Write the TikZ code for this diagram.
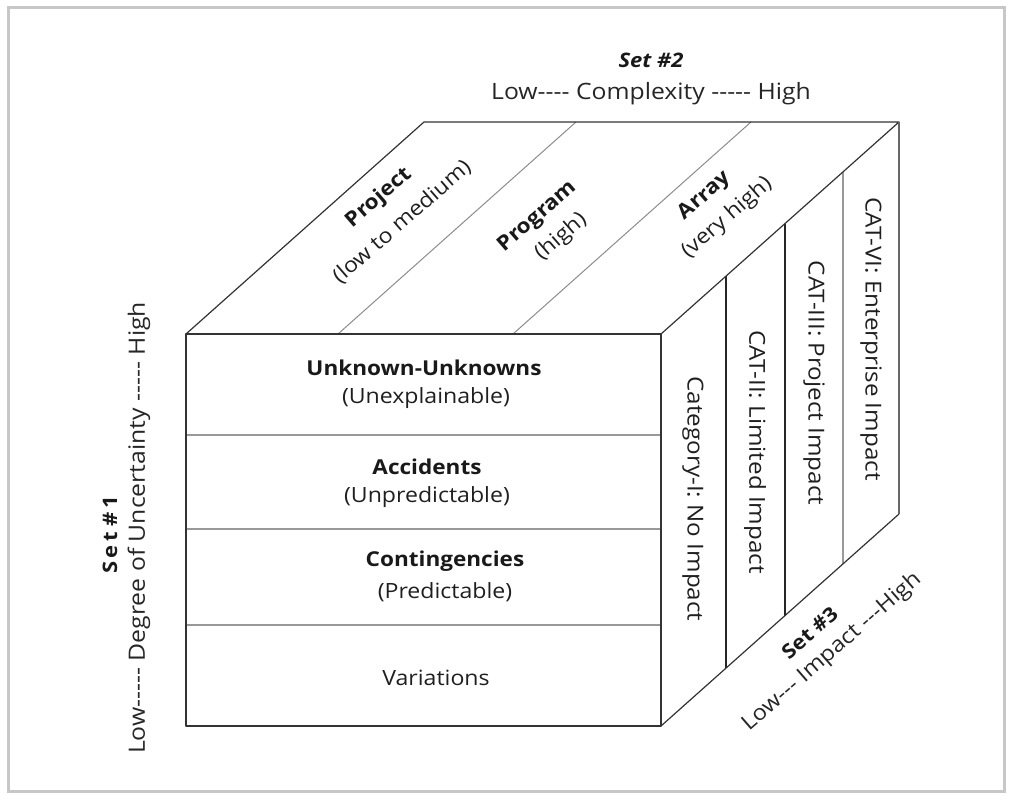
\documentclass[tikz,border=0pt]{standalone}
\usepackage{fontspec}
\setmainfont{Open Sans}[FakeStretch=1.1]
\newcommand\hy{-\kern0pt}
\begin{document}
\begin{tikzpicture}[x=1pt,y=-1pt,
  edge/.style={draw=black!80,line width=1.2pt,line join=round},
  softdiv/.style={draw=black!40,line width=1.1pt},
  harddiv/.style={draw=black!85,line width=1.2pt},
  lbl/.style={inner sep=0pt,text=black!88,font=\fontsize{21}{25}\selectfont},
  sidelbl/.style={inner sep=0pt,text=black!88,font=\fontsize{22}{26}\selectfont},
  blbl/.style={inner sep=0pt,text=black!90,font=\fontsize{20.5}{24}\selectfont\bfseries},
  axis/.style={inner sep=0pt,text=black!85,font=\fontsize{22.5}{26}\selectfont},
  setlbl/.style={inner sep=0pt,text=black!90,font=\fontsize{20}{24}\selectfont\bfseries}]
\useasboundingbox (0,0) rectangle (1010,795);
\draw[draw=black!22,line width=3pt] (8,7) rectangle (1004,791);
% cube corners
\coordinate (ftl) at (186,334);
\coordinate (ftr) at (661,334);
\coordinate (fbr) at (661,726);
\coordinate (fbl) at (186,726);
\coordinate (btl) at (424,122);
\coordinate (btr) at (899,122);
\coordinate (bbr) at (899,514);
% front face dividers
\coordinate (h1l) at (186,435); \coordinate (h1r) at (661,435);
\coordinate (h2l) at (186,529); \coordinate (h2r) at (661,529);
\coordinate (h3l) at (186,625); \coordinate (h3r) at (661,625);
\draw[softdiv] (h1l) -- (h1r);
\draw[softdiv] (h2l) -- (h2r);
\draw[softdiv] (h3l) -- (h3r);
% top face dividers
\coordinate (t1f) at (338,334); \coordinate (t1b) at (576,122);
\coordinate (t2f) at (513,334); \coordinate (t2b) at (751,122);
\draw[draw=black!45,line width=1pt] (t1f) -- (t1b);
\draw[draw=black!45,line width=1pt] (t2f) -- (t2b);
% right face dividers
\coordinate (r1t) at (726,276); \coordinate (r1b) at (726,668);
\coordinate (r2t) at (785,224); \coordinate (r2b) at (785,616);
\coordinate (r3t) at (843,172); \coordinate (r3b) at (843,564);
\draw[harddiv] (r1t) -- (r1b);
\draw[harddiv] (r2t) -- (r2b);
\draw[softdiv] (r3t) -- (r3b);
% cube edges
\draw[edge] (ftl) -- (ftr) -- (fbr) -- (fbl) -- cycle;
\draw[edge] (ftl) -- (btl) -- (btr) -- (ftr);
\draw[edge] (fbr) -- (bbr);
\draw[draw=black!60,line width=1.2pt] (btr) -- (bbr);
% front texts
\node[blbl] (uu) at (424,368) {Unknown-Unknowns};
\node[lbl] (uus) at (426,398) {(Unexplainable)};
\node[blbl] (acc) at (427,467) {Accidents};
\node[lbl] (accs) at (427,497) {(Unpredictable)};
\node[blbl] (con) at (445,561) {Contingencies};
\node[lbl] (cons) at (445,592) {(Predictable)};
\node[lbl] (var) at (436,678) {Variations};
% top texts
\node[blbl,rotate=41] (proj) at (379,198) {Project};
\node[lbl,rotate=41] (projs) at (402,222) {(low to medium)};
\node[blbl,rotate=41] (prog) at (538,217) {Program};
\node[lbl,rotate=41] (progs) at (561,237) {(high)};
\node[blbl,rotate=41] (arr) at (705,196) {Array};
\node[lbl,rotate=41] (arrs) at (727,218) {(very high)};
% right texts
\node[sidelbl,rotate=-90] (c1) at (693,499) {Category-I: No Impact};
\node[sidelbl,rotate=-90] (c2) at (755,452) {CAT-II: Limited Impact};
\node[sidelbl,rotate=-90] (c3) at (814,383) {CAT-III: Project Impact};
\node[sidelbl,rotate=-90] (c4) at (871,339) {CAT-VI: Enterprise Impact};
% axis labels
\node[setlbl,font=\fontsize{20}{24}\selectfont\bfseries\itshape] (s2) at (651,60) {Set \#2};
\node[axis] (a2) at (651,94) {Low\hy\hy\hy\hy{} Complexity \hy\hy\hy\hy\hy{} High};
\node[setlbl,rotate=90] (s1) at (110,535) {S\,e\,t \#\,1};
\node[axis,rotate=90] (a1) at (139,528) {Low\hy\hy\hy\hy\hy{} Degree of Uncertainty \hy\hy\hy\hy\hy{} High};
\node[setlbl,rotate=41] (s3) at (810,633) {Set \#3};
\node[axis,font=\fontsize{21.5}{25}\selectfont,rotate=41] (a3) at (832,652) {Low\hy\hy\hy{} Impact \hy\hy\hy High};
\end{tikzpicture}
\end{document}
